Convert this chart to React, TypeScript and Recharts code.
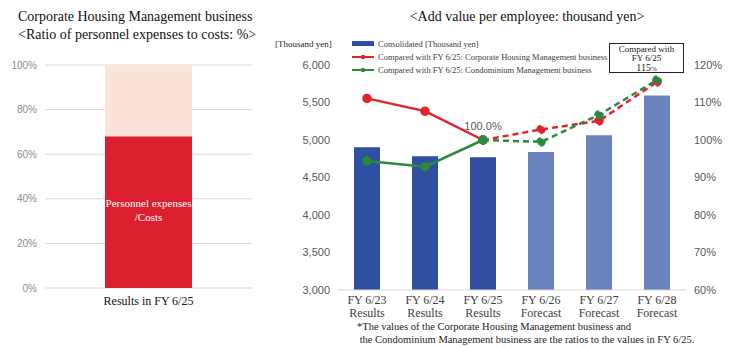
import React from "react";
import {
  BarChart,
  Bar,
  ComposedChart,
  Line,
  XAxis,
  YAxis,
  CartesianGrid,
  Cell,
  LabelList,
} from "recharts";

// left chart
const ratioCategories = ["Results in FY 6/25"];
const personnelShare = [68];
const otherShare = [32];
const pctTicks = [0, 20, 40, 60, 80, 100];

// right chart
const fiscalYears = ["FY 6/23", "FY 6/24", "FY 6/25", "FY 6/26", "FY 6/27", "FY 6/28"];
const yearKinds = ["Results", "Results", "Results", "Forecast", "Forecast", "Forecast"];
const consolidated = [4905, 4785, 4770, 4840, 5065, 5595];
const corporateRatio = [111.1, 107.7, 100, 102.8, 105.1, 115.5];
const condoRatio = [94.4, 92.9, 100, 99.5, 106.7, 116];
const yenTicks = [3000, 3500, 4000, 4500, 5000, 5500, 6000];
const ratioTicks = [60, 70, 80, 90, 100, 110, 120];
const resultsCount = 3;

const RED = "#DC1F2E";
const PEACH = "#FBE4D7";
const BLUE_DARK = "#2F50A0";
const BLUE_LIGHT = "#6A83BE";
const LINE_RED = "#E0242E";
const LINE_GREEN = "#2B8A3E";
const SERIF = "'Liberation Serif', 'DejaVu Serif', serif";
const SANS = "'Liberation Sans', Arial, sans-serif";

const leftData = ratioCategories.map((c, i) => ({
  name: c,
  personnel: personnelShare[i],
  other: otherShare[i],
}));

const rightData = fiscalYears.map((fy, i) => ({
  fy,
  kind: yearKinds[i],
  value: consolidated[i],
  corpSolid: i < resultsCount ? corporateRatio[i] : null,
  corpDash: i >= resultsCount - 1 ? corporateRatio[i] : null,
  condoSolid: i < resultsCount ? condoRatio[i] : null,
  condoDash: i >= resultsCount - 1 ? condoRatio[i] : null,
}));

const FyTick = (props: any) => {
  const { x, y, payload, index } = props;
  return (
    <text x={x} y={y} textAnchor="middle" fontFamily={SERIF} fontSize={12} fill="#404040">
      <tspan x={x} dy={6}>{payload.value}</tspan>
      <tspan x={x} dy={13}>{yearKinds[index]}</tspan>
    </text>
  );
};

const PersonnelLabel = (props: any) => {
  const { x, y, width, height } = props;
  const cx = x + width / 2;
  const cy = y + height / 2;
  return (
    <text x={cx} y={cy} textAnchor="middle" fontFamily={SERIF} fontSize={11} fill="#fff">
      <tspan x={cx} dy={-5}>Personnel expenses</tspan>
      <tspan x={cx} dy={14}>/Costs</tspan>
    </text>
  );
};

const BaseLabel = (props: any) => {
  const { x, y, index } = props;
  if (index !== resultsCount - 1) return null;
  return (
    <text x={x} y={y - 10} textAnchor="middle" fontFamily={SANS} fontSize={11} fill="#595959">
      {corporateRatio[index].toFixed(1)}%
    </text>
  );
};

const LegendLine = ({ color }: { color: string }) => (
  <svg width={22} height={6} style={{ marginRight: 4 }}>
    <line x1={0} y1={3} x2={22} y2={3} stroke={color} strokeWidth={2} />
    <circle cx={11} cy={3} r={2.3} fill={color} />
  </svg>
);

export default function App() {
  const legendRow: React.CSSProperties = {
    display: "flex",
    alignItems: "center",
    height: 13,
    fontFamily: SERIF,
    fontSize: 8.5,
    color: "#404040",
    whiteSpace: "nowrap",
  };
  return (
    <div style={{ position: "absolute", left: 0, top: 0, width: 736, height: 347, background: "#fff", overflow: "hidden" }}>
      <div style={{ position: "absolute", left: 18, top: 8, fontFamily: SERIF, fontSize: 14, lineHeight: "18px", color: "#111" }}>
        Corporate Housing Management business
        <br />
        {"<Ratio of personnel expenses to costs: %>"}
      </div>

      <div style={{ position: "absolute", left: 0, top: 55 }}>
        <BarChart width={265} height={260} data={leftData} margin={{ top: 10, right: 13, bottom: 7, left: 5 }} barSize={87}>
          <CartesianGrid vertical={false} stroke="#D9D9D9" />
          <XAxis
            dataKey="name"
            axisLine={false}
            tickLine={false}
            height={20}
            tick={{ fontFamily: SERIF, fontSize: 12, fill: "#111" }}
          />
          <YAxis
            domain={[0, 100]}
            ticks={pctTicks}
            width={40}
            axisLine={false}
            tickLine={false}
            tickFormatter={(v: number) => `${v}%`}
            tick={{ fontFamily: SANS, fontSize: 10, fill: "#8C8C8C" }}
          />
          <Bar dataKey="personnel" stackId="a" fill={RED} isAnimationActive={false}>
            <LabelList content={PersonnelLabel} />
          </Bar>
          <Bar dataKey="other" stackId="a" fill={PEACH} isAnimationActive={false} />
        </BarChart>
      </div>

      <div style={{ position: "absolute", left: 270, top: 9, width: 514, textAlign: "center", fontFamily: SERIF, fontSize: 14, color: "#111" }}>
        {"<Add value per employee: thousand yen>"}
      </div>

      <div style={{ position: "absolute", left: 270, top: 30 }}>
        <ComposedChart width={466} height={295} data={rightData} margin={{ top: 35, right: 5, bottom: 5, left: 8 }}>
          <XAxis
            dataKey="fy"
            height={30}
            axisLine={{ stroke: "#D9D9D9" }}
            tickLine={false}
            interval={0}
            tick={<FyTick />}
          />
          <YAxis
            yAxisId="yen"
            domain={[3000, 6000]}
            ticks={yenTicks}
            width={60}
            axisLine={false}
            tickLine={false}
            tickFormatter={(v: number) => v.toLocaleString("en-US")}
            tick={{ fontFamily: SANS, fontSize: 11, fill: "#595959" }}
          />
          <YAxis
            yAxisId="ratio"
            orientation="right"
            domain={[60, 120]}
            ticks={ratioTicks}
            width={45}
            axisLine={false}
            tickLine={false}
            tickFormatter={(v: number) => `${v}%`}
            tick={{ fontFamily: SANS, fontSize: 11, fill: "#595959" }}
          />
          <Bar yAxisId="yen" dataKey="value" barSize={26} isAnimationActive={false}>
            {rightData.map((d, i) => (
              <Cell key={d.fy} fill={i < resultsCount ? BLUE_DARK : BLUE_LIGHT} />
            ))}
          </Bar>
          <Line yAxisId="ratio" dataKey="corpDash" stroke={LINE_RED} strokeWidth={2.5} strokeDasharray="6 4" dot={{ r: 3.5, fill: LINE_RED, stroke: LINE_RED }} isAnimationActive={false} />
          <Line yAxisId="ratio" dataKey="corpSolid" stroke={LINE_RED} strokeWidth={2.5} dot={{ r: 3.5, fill: LINE_RED, stroke: LINE_RED }} isAnimationActive={false}>
            <LabelList content={BaseLabel} />
          </Line>
          <Line yAxisId="ratio" dataKey="condoDash" stroke={LINE_GREEN} strokeWidth={2.5} strokeDasharray="6 4" dot={{ r: 3.5, fill: LINE_GREEN, stroke: LINE_GREEN }} isAnimationActive={false} />
          <Line yAxisId="ratio" dataKey="condoSolid" stroke={LINE_GREEN} strokeWidth={2.5} dot={{ r: 3.5, fill: LINE_GREEN, stroke: LINE_GREEN }} isAnimationActive={false} />
        </ComposedChart>
      </div>

      <div style={{ position: "absolute", left: 275, top: 39, fontFamily: SERIF, fontSize: 9, color: "#222" }}>
        [Thousand yen]
      </div>

      <div style={{ position: "absolute", left: 352, top: 37 }}>
        <div style={legendRow}>
          <span style={{ display: "inline-block", width: 22, height: 5, background: BLUE_DARK, marginRight: 4 }} />
          Consolidated [Thousand yen]
        </div>
        <div style={legendRow}>
          <LegendLine color={LINE_RED} />
          Compared with FY 6/25: Corporate Housing Management business
        </div>
        <div style={legendRow}>
          <LegendLine color={LINE_GREEN} />
          Compared with FY 6/25: Condominium Management business
        </div>
      </div>

      <div
        style={{
          position: "absolute",
          left: 609,
          top: 43,
          width: 73,
          height: 27,
          border: "1.5px solid #222",
          textAlign: "center",
          fontFamily: SERIF,
          fontSize: 9,
          lineHeight: "9px",
          color: "#222",
          paddingTop: 1,
        }}
      >
        Compared with
        <br />
        FY 6/25
        <br />
        <span style={{ fontSize: 10 }}>115</span>
        <span style={{ fontSize: 7 }}>%</span>
      </div>

      <div style={{ position: "absolute", left: 357, top: 320, fontFamily: SERIF, fontSize: 10.5, lineHeight: "13px", color: "#222", whiteSpace: "nowrap" }}>
        *The values of the Corporate Housing Management business and
        <br />
        &nbsp;the Condominium Management business are the ratios to the values in FY 6/25.
      </div>
    </div>
  );
}
